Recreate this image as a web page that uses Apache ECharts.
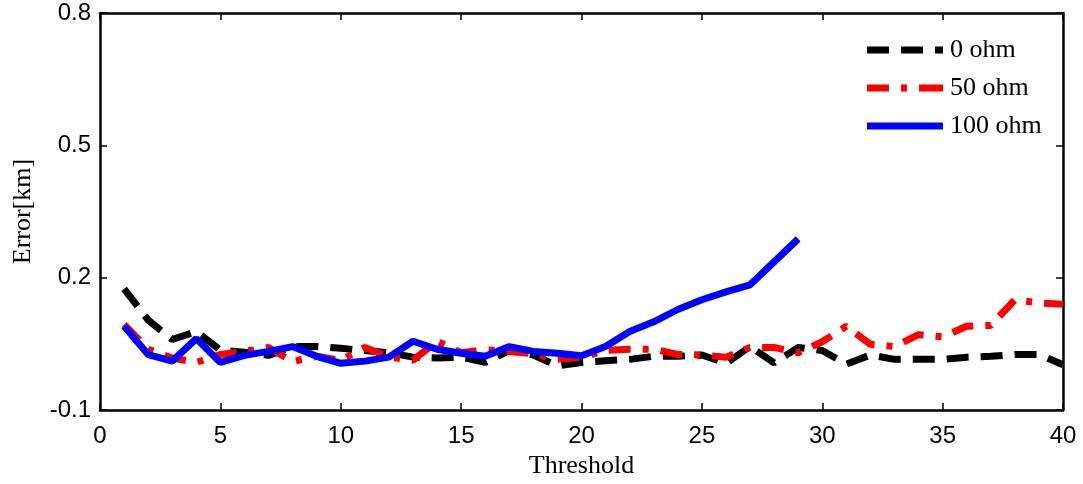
<!DOCTYPE html>
<html>
<head>
<meta charset="utf-8">
<script src="https://cdn.jsdelivr.net/npm/echarts@6/dist/echarts.min.js"></script>
<style>
  html, body { margin: 0; padding: 0; background: #fff; }
  #chart { width: 1083px; height: 484px; }
</style>
</head>
<body>
<div id="chart"></div>
<script>
// Threshold values (x) and fault-location error in km for three fault resistances
const thresholds = [1,2,3,4,5,6,7,8,9,10,11,12,13,14,15,16,17,18,19,20,
                    21,22,23,24,25,26,27,28,29,30,31,32,33,34,35,36,37,38,39,40];

const err0ohm = [0.175,0.104,0.060,0.078,0.036,0.031,0.024,0.044,0.044,0.040,
                 0.035,0.030,0.020,0.018,0.020,0.008,0.035,0.025,0.000,0.008,
                 0.012,0.015,0.022,0.022,0.025,0.006,0.044,0.007,0.042,0.035,
                 0.004,0.025,0.015,0.015,0.015,0.020,0.022,0.026,0.026,0.003];

const err50ohm = [0.094,0.038,0.018,0.008,0.026,0.033,0.042,0.010,0.022,0.013,
                  0.042,0.020,0.013,0.056,0.030,0.037,0.033,0.028,0.015,0.020,
                  0.035,0.038,0.038,0.026,0.025,0.020,0.042,0.042,0.030,0.055,
                  0.090,0.049,0.044,0.071,0.066,0.090,0.092,0.150,0.143,0.140];

const err100ohm = [0.090,0.026,0.011,0.062,0.008,0.024,0.033,0.044,0.022,0.006,
                   0.011,0.020,0.056,0.038,0.029,0.022,0.044,0.033,0.029,0.023,
                   0.044,0.078,0.100,0.128,0.150,0.168,0.184,0.236,0.288];

const seriesNames = ['0 ohm', '50 ohm', '100 ohm'];
const yTicks = { min: -0.1, max: 0.8, step: 0.3 };
const xTicks = { min: 0, max: 40, step: 5 };

function pairs(ys) {
  return ys.map((v, i) => [thresholds[i], v]);
}

// Legend glyphs: dashed, dash-dot and solid strokes drawn as filled bars (76 x 7 box)
const legendIcons = [
  'path://M0,0H22V7H0Z M34,0H56V7H34Z M68,0H76V7H68Z',
  'path://M0,0H22V7H0Z M34,0H40V7H34Z M52,0H76V7H52Z',
  'path://M0,0H76V7H0Z'
];

const chart = echarts.init(document.getElementById('chart'), null, { renderer: 'canvas' });

const axisLineStyle = { color: '#000', width: 2.5 };
const tickStyle = { show: true, inside: true, length: 7, lineStyle: { color: '#000', width: 1.5 } };
const labelFont = { color: '#000', fontFamily: 'Liberation Sans', fontSize: 24 };
const titleFont = { color: '#000', fontFamily: 'Liberation Serif', fontSize: 26 };

chart.setOption({
  animation: false,
  backgroundColor: '#fff',
  grid: { left: 100, right: 20, top: 13, bottom: 73, show: false },
  legend: {
    orient: 'vertical',
    left: 862,
    top: 32,
    itemWidth: 76,
    itemHeight: 7,
    itemGap: 12,
    textStyle: { color: '#000', fontFamily: 'Liberation Serif', fontSize: 26, padding: [0, 0, 0, 2] },
    data: seriesNames.map((n, i) => ({ name: n, icon: legendIcons[i] }))
  },
  xAxis: [
    {
      type: 'value', position: 'bottom',
      min: xTicks.min, max: xTicks.max, interval: xTicks.step,
      name: 'Threshold', nameLocation: 'middle', nameGap: 41,
      nameTextStyle: titleFont,
      axisLine: { show: true, onZero: false, lineStyle: axisLineStyle },
      axisTick: tickStyle,
      axisLabel: Object.assign({ margin: 14 }, labelFont),
      splitLine: { show: false }
    },
    {
      type: 'value', position: 'top',
      min: xTicks.min, max: xTicks.max, interval: xTicks.step,
      axisLine: { show: true, onZero: false, lineStyle: axisLineStyle },
      axisTick: tickStyle,
      axisLabel: { show: false },
      splitLine: { show: false }
    }
  ],
  yAxis: [
    {
      type: 'value', position: 'left',
      min: yTicks.min, max: yTicks.max, interval: yTicks.step,
      name: 'Error[km]', nameLocation: 'middle', nameGap: 64, nameRotate: 90,
      nameTextStyle: titleFont,
      axisLine: { show: true, onZero: false, lineStyle: axisLineStyle },
      axisTick: tickStyle,
      axisLabel: Object.assign({
        margin: 9,
        formatter: v => (Math.round(v * 10) / 10).toFixed(1)
      }, labelFont),
      splitLine: { show: false }
    },
    {
      type: 'value', position: 'right',
      min: yTicks.min, max: yTicks.max, interval: yTicks.step,
      axisLine: { show: true, onZero: false, lineStyle: axisLineStyle },
      axisTick: tickStyle,
      axisLabel: { show: false },
      splitLine: { show: false }
    }
  ],
  series: [
    {
      name: seriesNames[0], type: 'line', data: pairs(err0ohm),
      symbol: 'none',
      itemStyle: { color: '#000' },
      lineStyle: { color: '#000', width: 7, type: [22, 12] },
      z: 2
    },
    {
      name: seriesNames[1], type: 'line', data: pairs(err50ohm),
      symbol: 'none',
      itemStyle: { color: '#ff0000' },
      lineStyle: { color: '#ff0000', width: 7, type: [22, 12, 6, 12] },
      z: 3
    },
    {
      name: seriesNames[2], type: 'line', data: pairs(err100ohm),
      symbol: 'none',
      itemStyle: { color: '#0000ff' },
      lineStyle: { color: '#0000ff', width: 7, type: 'solid' },
      z: 4
    }
  ]
});
</script>
</body>
</html>
